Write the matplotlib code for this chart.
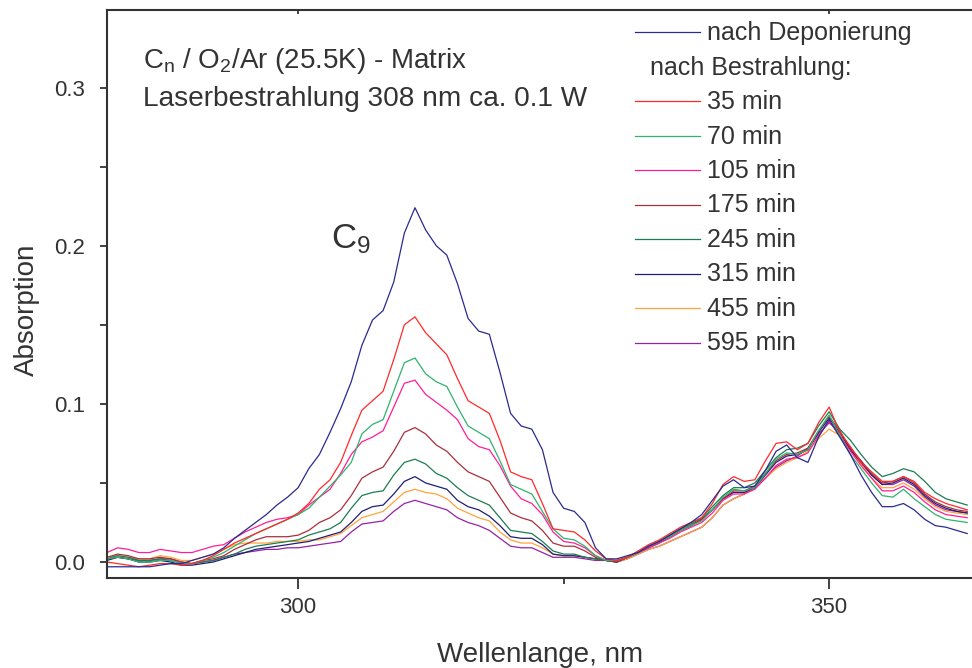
import matplotlib
matplotlib.use("Agg")
import matplotlib.pyplot as plt
from matplotlib.lines import Line2D
from matplotlib.ticker import MultipleLocator, FixedLocator

plt.rcParams["font.family"] = ["Liberation Sans", "DejaVu Sans"]
plt.rcParams["mathtext.fontset"] = "custom"
plt.rcParams["mathtext.rm"] = "Liberation Sans"
plt.rcParams["mathtext.it"] = "Liberation Sans"

TXT = "#333333"

# wavelength grid, nm
wavelength = list(range(282, 364))

# absorption spectra
dep = [-0.003, -0.003, -0.003, -0.003, -0.003, -0.002, -0.001, -0.001, 0.001, 0.003, 0.005, 0.009, 0.015, 0.020, 0.025, 0.030, 0.036, 0.041,
       0.047, 0.059, 0.068, 0.082, 0.097, 0.114, 0.137, 0.153, 0.159, 0.177, 0.208, 0.224, 0.210, 0.200, 0.194, 0.176, 0.154, 0.146, 0.144, 0.120, 0.094, 0.086, 0.084, 0.071, 0.044, 0.034, 0.032, 0.025, 0.009, 0.002, 0.002,
       0.004, 0.006, 0.010, 0.013, 0.017, 0.021, 0.025, 0.030, 0.039, 0.048, 0.052, 0.047, 0.048, 0.058, 0.070, 0.074, 0.066, 0.063, 0.079, 0.090, 0.079, 0.068, 0.055, 0.044, 0.035, 0.035, 0.037, 0.033, 0.027, 0.023, 0.022, 0.020, 0.018]
m35 = [0.000, -0.001, -0.002, -0.003, -0.002, -0.001, -0.001, -0.002, -0.001, 0.001, 0.004, 0.008, 0.012, 0.015, 0.018, 0.021, 0.024, 0.027,
       0.031, 0.037, 0.046, 0.052, 0.063, 0.080, 0.096, 0.102, 0.108, 0.128, 0.150, 0.155, 0.145, 0.138, 0.131, 0.116, 0.102, 0.098, 0.094, 0.077, 0.057, 0.054, 0.052, 0.037, 0.021, 0.020, 0.019, 0.014, 0.007, 0.002, 0.001,
       0.003, 0.007, 0.011, 0.014, 0.018, 0.022, 0.025, 0.028, 0.037, 0.049, 0.054, 0.051, 0.052, 0.064, 0.075, 0.076, 0.071, 0.075, 0.088, 0.098, 0.082, 0.073, 0.063, 0.057, 0.051, 0.051, 0.054, 0.051, 0.044, 0.040, 0.037, 0.035, 0.033]
m70 = [0.002, 0.003, 0.002, 0.000, 0.000, 0.001, 0.001, -0.001, -0.001, 0.001, 0.003, 0.006, 0.010, 0.014, 0.018, 0.021, 0.024, 0.027,
       0.030, 0.034, 0.041, 0.048, 0.055, 0.063, 0.081, 0.087, 0.090, 0.108, 0.126, 0.129, 0.119, 0.114, 0.111, 0.098, 0.086, 0.082, 0.078, 0.064, 0.049, 0.046, 0.043, 0.032, 0.021, 0.015, 0.014, 0.010, 0.004, 0.001, 0.001,
       0.003, 0.006, 0.010, 0.013, 0.016, 0.020, 0.023, 0.026, 0.033, 0.041, 0.046, 0.045, 0.047, 0.056, 0.065, 0.069, 0.068, 0.071, 0.083, 0.093, 0.080, 0.068, 0.059, 0.050, 0.042, 0.041, 0.046, 0.040, 0.035, 0.030, 0.027, 0.026, 0.025]
m105 = [0.006, 0.009, 0.008, 0.006, 0.006, 0.008, 0.007, 0.006, 0.006, 0.008, 0.010, 0.011, 0.015, 0.019, 0.022, 0.025, 0.027, 0.028,
        0.030, 0.036, 0.041, 0.046, 0.056, 0.068, 0.076, 0.079, 0.083, 0.098, 0.113, 0.115, 0.106, 0.101, 0.096, 0.090, 0.078, 0.073, 0.071, 0.061, 0.048, 0.040, 0.037, 0.030, 0.019, 0.013, 0.012, 0.009, 0.004, 0.001, 0.001,
        0.003, 0.006, 0.009, 0.012, 0.015, 0.019, 0.022, 0.025, 0.031, 0.039, 0.043, 0.043, 0.046, 0.053, 0.061, 0.065, 0.066, 0.069, 0.080, 0.089, 0.080, 0.070, 0.061, 0.053, 0.045, 0.045, 0.048, 0.044, 0.038, 0.033, 0.030, 0.029, 0.028]
m175 = [0.003, 0.005, 0.004, 0.002, 0.002, 0.003, 0.002, 0.000, -0.001, 0.001, 0.002, 0.004, 0.008, 0.011, 0.014, 0.016, 0.016, 0.016,
        0.017, 0.020, 0.025, 0.028, 0.033, 0.042, 0.053, 0.057, 0.060, 0.070, 0.082, 0.085, 0.081, 0.074, 0.070, 0.063, 0.057, 0.054, 0.051, 0.041, 0.031, 0.028, 0.026, 0.020, 0.012, 0.010, 0.010, 0.007, 0.003, 0.001, 0.000,
        0.003, 0.006, 0.010, 0.013, 0.016, 0.020, 0.023, 0.027, 0.033, 0.040, 0.045, 0.045, 0.048, 0.056, 0.064, 0.068, 0.069, 0.072, 0.083, 0.092, 0.083, 0.072, 0.064, 0.056, 0.050, 0.051, 0.054, 0.050, 0.043, 0.038, 0.035, 0.033, 0.032]
m245 = [0.002, 0.004, 0.003, 0.001, 0.001, 0.002, 0.001, -0.001, -0.001, 0.000, 0.001, 0.003, 0.005, 0.008, 0.010, 0.011, 0.012, 0.013,
        0.014, 0.017, 0.019, 0.021, 0.025, 0.034, 0.042, 0.044, 0.045, 0.055, 0.063, 0.065, 0.062, 0.056, 0.053, 0.047, 0.042, 0.039, 0.036, 0.028, 0.020, 0.019, 0.018, 0.013, 0.007, 0.005, 0.005, 0.003, 0.002, 0.001, 0.000,
        0.003, 0.006, 0.010, 0.013, 0.017, 0.021, 0.024, 0.028, 0.035, 0.042, 0.047, 0.047, 0.050, 0.058, 0.066, 0.071, 0.072, 0.075, 0.086, 0.095, 0.084, 0.077, 0.068, 0.060, 0.054, 0.056, 0.059, 0.057, 0.051, 0.044, 0.040, 0.038, 0.036]
m315 = [0.001, 0.003, 0.002, 0.000, 0.000, 0.001, 0.000, -0.002, -0.002, -0.001, 0.000, 0.002, 0.004, 0.006, 0.008, 0.009, 0.010, 0.011,
        0.012, 0.013, 0.015, 0.017, 0.019, 0.025, 0.032, 0.035, 0.036, 0.043, 0.051, 0.054, 0.050, 0.048, 0.046, 0.039, 0.035, 0.033, 0.029, 0.023, 0.016, 0.015, 0.015, 0.011, 0.005, 0.004, 0.004, 0.003, 0.002, 0.001, 0.000,
        0.003, 0.006, 0.009, 0.012, 0.016, 0.020, 0.023, 0.027, 0.033, 0.040, 0.044, 0.044, 0.047, 0.055, 0.063, 0.067, 0.068, 0.071, 0.082, 0.091, 0.082, 0.071, 0.063, 0.055, 0.049, 0.050, 0.053, 0.049, 0.042, 0.037, 0.034, 0.032, 0.031]
m455 = [0.003, 0.004, 0.003, 0.002, 0.002, 0.004, 0.003, 0.001, 0.001, 0.003, 0.005, 0.008, 0.011, 0.012, 0.012, 0.012, 0.013, 0.013,
        0.013, 0.014, 0.014, 0.016, 0.018, 0.023, 0.028, 0.030, 0.032, 0.038, 0.044, 0.046, 0.044, 0.043, 0.040, 0.034, 0.031, 0.028, 0.026, 0.019, 0.014, 0.012, 0.012, 0.009, 0.005, 0.004, 0.004, 0.003, 0.002, 0.001, 0.000,
        0.002, 0.005, 0.008, 0.010, 0.013, 0.016, 0.019, 0.022, 0.028, 0.036, 0.040, 0.043, 0.047, 0.053, 0.059, 0.063, 0.066, 0.070, 0.078, 0.084, 0.080, 0.071, 0.062, 0.053, 0.047, 0.047, 0.050, 0.046, 0.040, 0.035, 0.032, 0.031, 0.030]
m595 = [0.002, 0.003, 0.002, 0.001, 0.001, 0.002, 0.002, 0.000, -0.001, 0.000, 0.001, 0.003, 0.005, 0.006, 0.007, 0.008, 0.008, 0.009,
        0.009, 0.010, 0.011, 0.012, 0.013, 0.019, 0.024, 0.025, 0.026, 0.032, 0.037, 0.039, 0.037, 0.035, 0.033, 0.028, 0.025, 0.023, 0.020, 0.015, 0.010, 0.009, 0.009, 0.006, 0.003, 0.003, 0.003, 0.002, 0.001, 0.001, 0.000,
        0.002, 0.005, 0.008, 0.010, 0.013, 0.016, 0.019, 0.022, 0.028, 0.036, 0.040, 0.043, 0.047, 0.053, 0.060, 0.064, 0.067, 0.072, 0.081, 0.088, 0.082, 0.072, 0.064, 0.055, 0.049, 0.049, 0.052, 0.048, 0.041, 0.036, 0.033, 0.032, 0.031]

labels = ["nach Deponierung", "35 min", "70 min", "105 min", "175 min",
          "245 min", "315 min", "455 min", "595 min"]
colors = ["#2a2a90", "#ff2a2a", "#2fb36e", "#ff1e96", "#a8303c",
          "#1c7d52", "#1e1e78", "#ffa43a", "#9423a6"]
spectra = [dep, m35, m70, m105, m175, m245, m315, m455, m595]

W, H = 972, 668
fig = plt.figure(figsize=(W / 100, H / 100), dpi=100)
ax = fig.add_axes([107 / W, (H - 578) / H, (W - 107) / W, (578 - 10) / H])

# draw oldest on top like the original
for y, c in zip(spectra[::-1], colors[::-1]):
    ax.plot(wavelength, y, color=c, lw=0.9)

ax.set_xlim(282.0, 363.45)
ax.set_ylim(-0.0101, 0.349)

ax.xaxis.set_major_locator(FixedLocator([300, 350]))
ax.xaxis.set_minor_locator(FixedLocator([325]))
ax.yaxis.set_major_locator(MultipleLocator(0.1))
ax.yaxis.set_minor_locator(MultipleLocator(0.05))
ax.yaxis.set_major_formatter(plt.FuncFormatter(lambda v, p: f"{v:.1f}"))

ax.tick_params(axis="x", which="major", direction="out", length=8, width=1.3,
               color=TXT, labelsize=16, labelcolor=TXT, pad=6)
ax.tick_params(axis="x", which="minor", direction="out", length=4, width=1.3, color=TXT)
ax.tick_params(axis="y", which="both", direction="out", length=5, width=1.3,
               color=TXT, labelsize=16, labelcolor=TXT, pad=11)
# tiny marks on the top spine
ax.tick_params(axis="x", which="major", top=True)
ax.tick_params(axis="x", which="minor", top=False)
for t in ax.xaxis.get_major_ticks():
    t.tick2line.set_markersize(3)
    t.tick2line.set_marker(3)
for side in ["left", "bottom", "top"]:
    ax.spines[side].set_color(TXT)
    ax.spines[side].set_linewidth(1.5)
ax.spines["right"].set_visible(False)

fig.text(27 / W, 1 - 310 / H, "Absorption", rotation=90, ha="center", va="center",
         fontsize=20, color=TXT)
fig.text(540 / W, 1 - 662 / H, "Wellenlange, nm", ha="center", va="baseline",
         fontsize=20, color=TXT)

fig.text(143 / W, 1 - 68 / H, r"C$_\mathregular{n}$ / O$_\mathregular{2}$/Ar (25.5K) - Matrix",
         ha="left", va="baseline", fontsize=20, color=TXT)
fig.text(143 / W, 1 - 106 / H, "Laserbestrahlung 308 nm ca. 0.1 W",
         ha="left", va="baseline", fontsize=20.2, color=TXT)
fig.text(331 / W, 1 - 248 / H, r"C$_\mathregular{9}$", ha="left", va="baseline",
         fontsize=25, color=TXT)

# legend drawn by hand, one row is only a caption
row_y = [32 + 34.5 * i for i in range(10)]
entries = [(labels[0], colors[0])] + [(None, None)] + list(zip(labels[1:], colors[1:]))
for ry, (lab, col) in zip(row_y, entries):
    if lab is None:
        fig.text(650 / W, 1 - (ry + 8) / H, "nach Bestrahlung:", ha="left",
                 va="baseline", fontsize=18, color=TXT)
        continue
    fig.add_artist(Line2D([635 / W, 700 / W], [1 - ry / H, 1 - ry / H],
                          color=col, lw=0.9, transform=fig.transFigure))
    fig.text(707 / W, 1 - (ry + 8) / H, lab, ha="left", va="baseline",
             fontsize=18, color=TXT)

fig.savefig("out.png", dpi=100)
